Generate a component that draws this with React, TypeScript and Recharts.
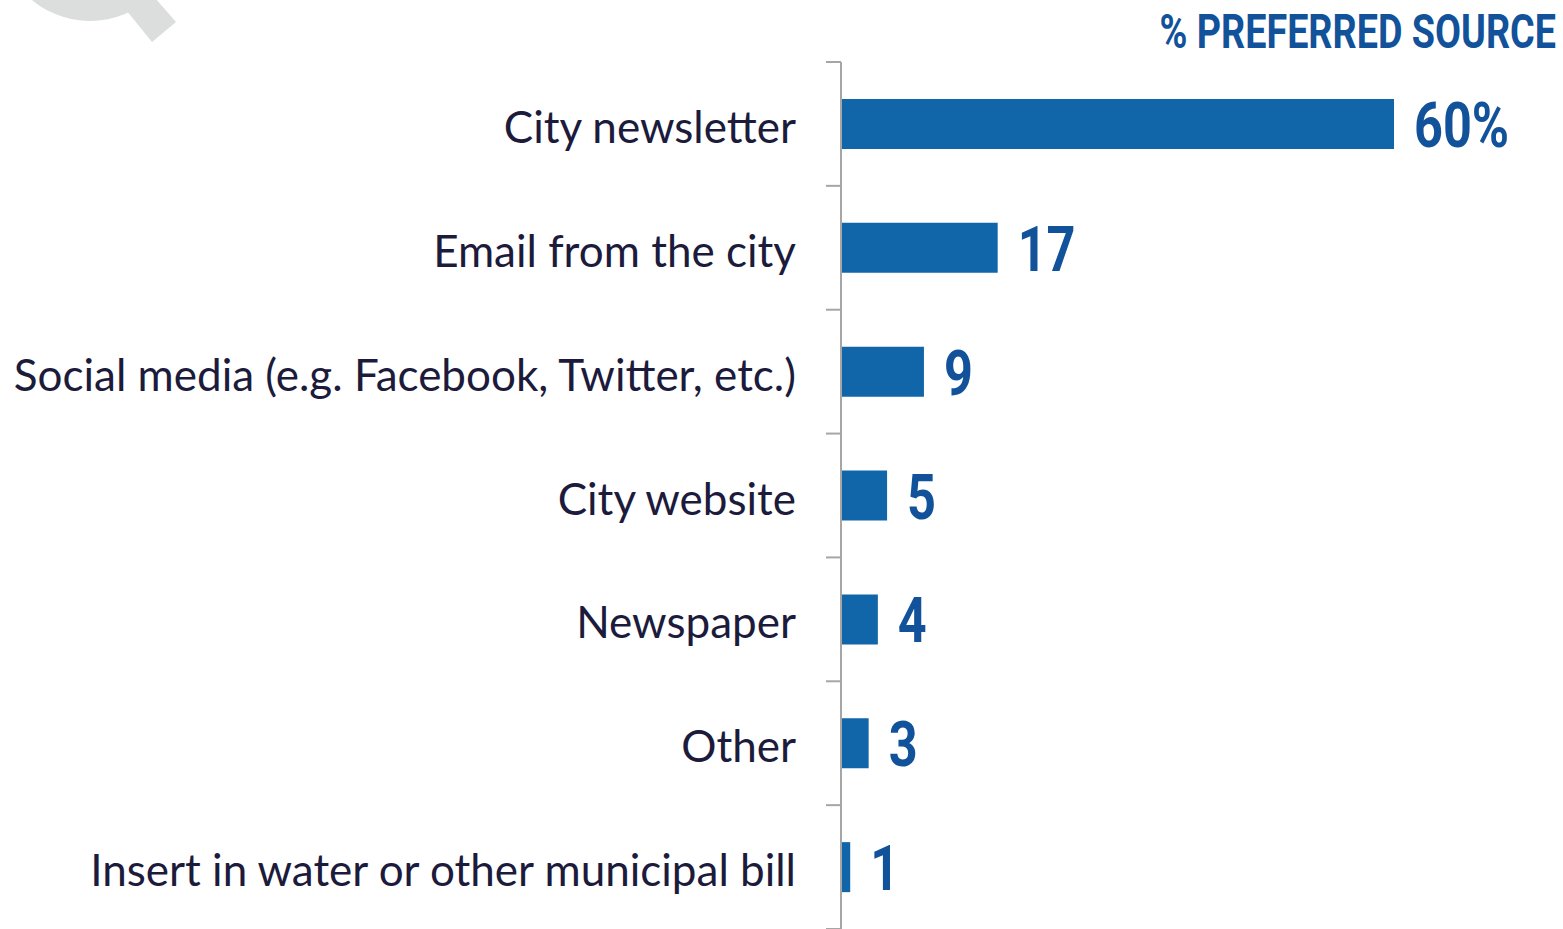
import { BarChart, Bar, XAxis, YAxis, LabelList } from 'recharts';

const categories = [
  'City newsletter',
  'Email from the city',
  'Social media (e.g. Facebook, Twitter, etc.)',
  'City website',
  'Newspaper',
  'Other',
  'Insert in water or other municipal bill',
];
const shares = [60, 17, 9, 5, 4, 3, 1];
const valueLabels = ['60%', '17', '9', '5', '4', '3', '1'];

const data = categories.map((name, i) => ({ name, value: shares[i], label: valueLabels[i] }));

const WIDTH = 1563;
const HEIGHT = 929;
const TOP = 62;
const BAND = (HEIGHT - TOP) / categories.length;

const BAR_COLOR = '#1066a8';
const VALUE_COLOR = '#11529a';
const TEXT_COLOR = '#1c1b3c';
const AXIS_COLOR = '#a6a6a6';
const LABEL_GAP = 45;
const TICK_LEN = 15;

function CategoryTick(props: any) {
  const { x, y, payload, index } = props;
  const axisX = x + LABEL_GAP;
  const isLast = index === categories.length - 1;
  return (
    <g>
      <line x1={axisX - TICK_LEN} x2={axisX} y1={y - BAND / 2} y2={y - BAND / 2} stroke={AXIS_COLOR} strokeWidth={2} />
      {isLast && (
        <line x1={axisX - TICK_LEN} x2={axisX} y1={y + BAND / 2} y2={y + BAND / 2} stroke={AXIS_COLOR} strokeWidth={2} />
      )}
      <text
        x={x}
        y={y}
        dy={19}
        textAnchor="end"
        fontFamily="Lato, 'Open Sans', sans-serif"
        fontSize={44}
        fill={TEXT_COLOR}
      >
        {payload.value}
      </text>
    </g>
  );
}

function ValueLabel(props: any) {
  const { x, y, width, height, value } = props;
  const tx = x + width + 20;
  const ty = y + height / 2;
  return (
    <text
      transform={`translate(${tx}, ${ty}) scale(0.8, 1)`}
      dy={23}
      fontFamily="Roboto, sans-serif"
      fontWeight={700}
      fontSize={63}
      fill={VALUE_COLOR}
    >
      {value}
    </text>
  );
}

export default function App() {
  return (
    <div style={{ position: 'absolute', left: 0, top: 0, width: WIDTH, height: HEIGHT, background: '#fff', overflow: 'hidden' }}>
      {/* faded magnifier glyph, top-left corner */}
      <svg width={200} height={60} style={{ position: 'absolute', left: 0, top: 0 }}>
        <circle cx={90} cy={-70} r={91} fill="#dcdddd" />
        <polygon points="118,0 152,42 176,22 148,-10" fill="#dcdddd" />
      </svg>
      <div
        style={{
          position: 'absolute',
          right: 7,
          top: 4,
          fontFamily: 'Roboto, sans-serif',
          fontWeight: 700,
          fontSize: 49,
          lineHeight: '56px',
          color: VALUE_COLOR,
          whiteSpace: 'nowrap',
          transform: 'scaleX(0.77)',
          transformOrigin: 'right center',
        }}
      >
        % PREFERRED SOURCE
      </div>
      <BarChart
        width={WIDTH}
        height={HEIGHT}
        data={data}
        layout="vertical"
        margin={{ top: TOP, right: 169, bottom: 0, left: 0 }}
        barCategoryGap={37}
        style={{ position: 'absolute', left: 0, top: 0 }}
      >
        <XAxis type="number" domain={[0, 60]} hide />
        <YAxis
          type="category"
          dataKey="name"
          width={841}
          axisLine={{ stroke: AXIS_COLOR, strokeWidth: 2 }}
          tickLine={false}
          tickSize={0}
          tickMargin={LABEL_GAP}
          tick={<CategoryTick />}
          interval={0}
        />
        <Bar dataKey="value" fill={BAR_COLOR} barSize={50} isAnimationActive={false}>
          <LabelList dataKey="label" content={<ValueLabel />} />
        </Bar>
      </BarChart>
    </div>
  );
}
